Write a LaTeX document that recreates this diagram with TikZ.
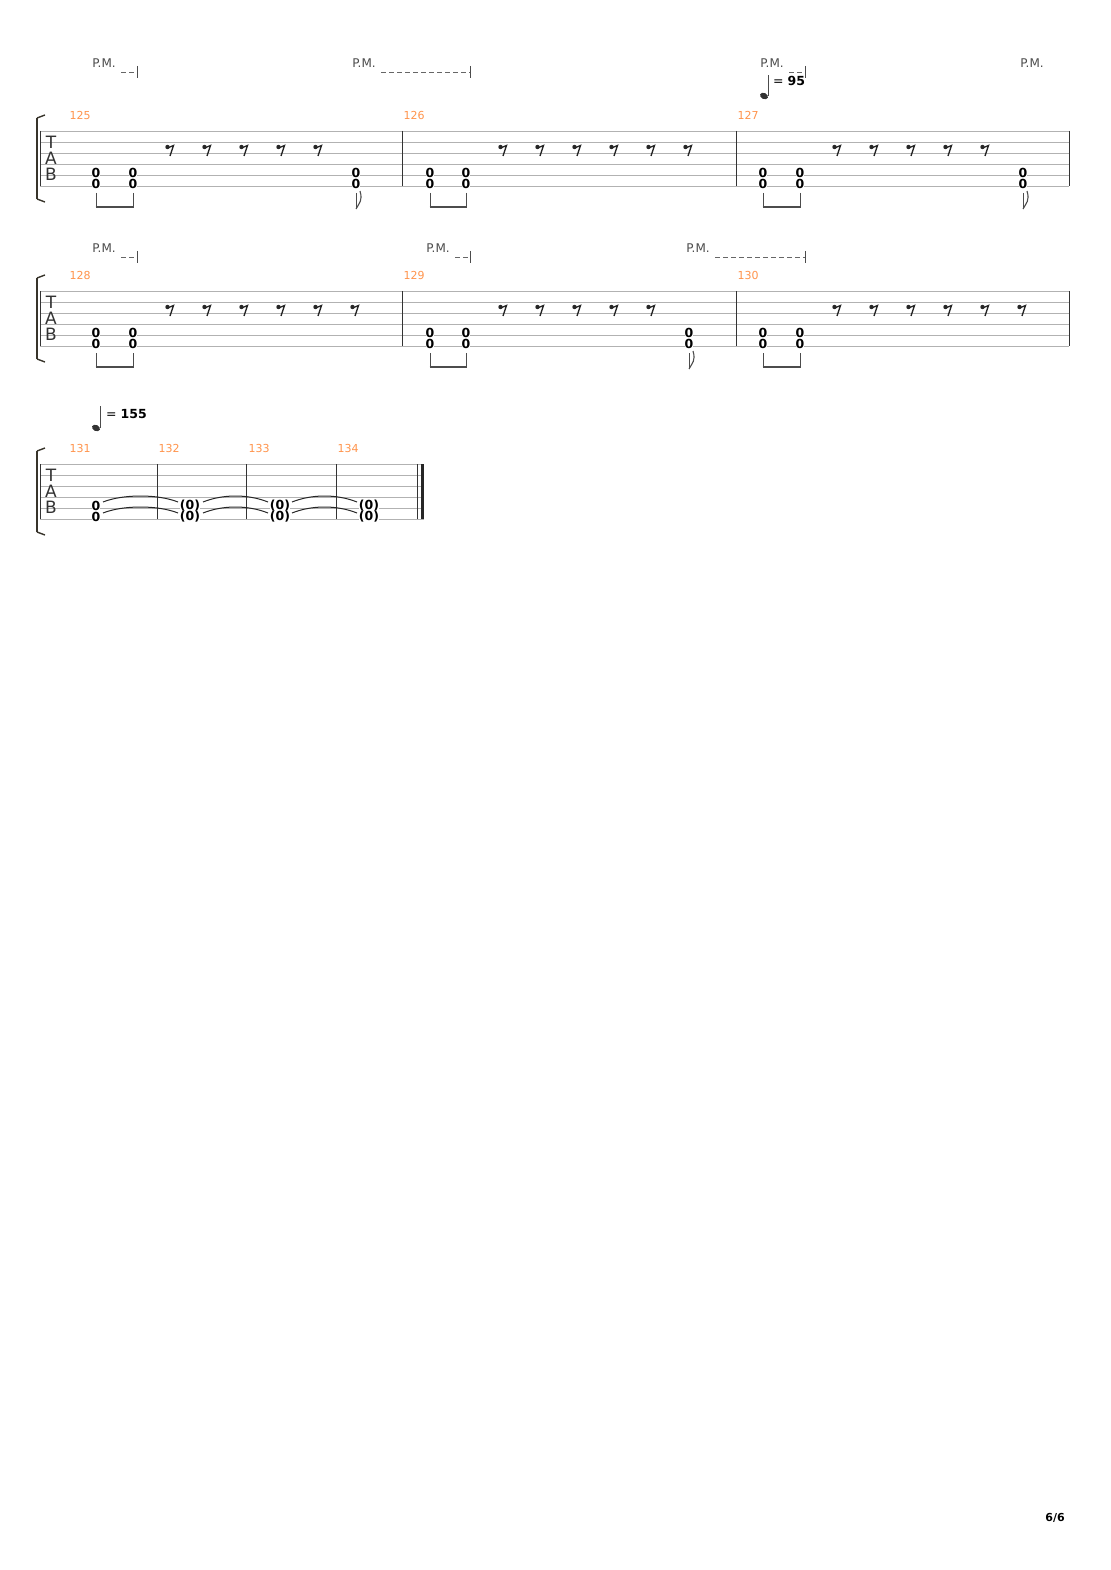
\documentclass[tikz,border=0pt]{standalone}
\usepackage{fontspec}
\setmainfont{DejaVu Sans}
\begin{document}
\begin{tikzpicture}[x=1pt,y=-1pt,
  staffline/.style={draw=black!30,line width=0.7pt},
  bar/.style={draw=black!80,line width=0.9pt},
  fret/.style={font=\fontsize{12.5}{12}\selectfont\bfseries,inner sep=0pt,fill=white},
  mnum/.style={font=\fontsize{11}{11}\selectfont,text=orange!80!red!70,anchor=west},
  pm/.style={font=\fontsize{12}{12}\selectfont,text=black!70},
  pmline/.style={draw=black!60,dashed,dash pattern=on 5pt off 3pt,line width=0.7pt},
  stem/.style={draw=black!70,line width=0.9pt}]
\useasboundingbox (0,0) rectangle (1110,1570);
\fill[white] (0,0) rectangle (1110,1570);
\newcommand{\myrest}[2]{\fill[black!85] (#1-2.5,#2-3) circle (2.2pt);
  \draw[black!85,line width=1.3pt] (#1-2,#2-2.2) -- (#1+3.5,#2-4.5) -- (#1,#2+6);}
\newcommand{\staff}[3]{%
  \foreach \k in {0,...,5}{\draw[staffline] (#2,#1+11*\k) -- (#3,#1+11*\k);}
  \draw[bar] (#2,#1) -- (#2,#1+55);
  \draw[black!80!olive,line width=2.5pt] (37,#1-13) -- (37,#1+68);
  \draw[black!80!olive,line width=1.4pt] (37,#1-13) -- (45,#1-16);
  \draw[black!80!olive,line width=1.4pt] (37,#1+68) -- (45,#1+71);
  \node[font=\fontsize{17}{17}\selectfont,inner sep=0pt,text=black!80] at (51,#1+11) {T};
  \node[font=\fontsize{17}{17}\selectfont,inner sep=0pt,text=black!80] at (51,#1+27) {A};
  \node[font=\fontsize{17}{17}\selectfont,inner sep=0pt,text=black!80] at (51,#1+43) {B};}
\newcommand{\chord}[2]{\node[fret] at (#1,#2+42) {0}; \node[fret] at (#1,#2+53) {0};}
\newcommand{\beamed}[3]{\chord{#1}{#3}\chord{#2}{#3}
  \draw[stem] (#1,#3+62) -- (#1,#3+77); \draw[stem] (#2,#3+62) -- (#2,#3+77);
  \draw[black!70,line width=2.4pt] (#1-0.45,#3+76) -- (#2+0.45,#3+76);}
\newcommand{\flagged}[2]{\chord{#1}{#2}
  \draw[stem] (#1,#2+62) -- (#1,#2+78);
  \draw[black!70,line width=1.1pt] (#1,#2+78) .. controls (#1+3,#2+72) and (#1+7,#2+70) .. (#1+4,#2+60);}
% ---------- system 1
\staff{131}{40}{1069}
\draw[bar] (402,131) -- (402,186); \draw[bar] (736,131) -- (736,186); \draw[bar] (1069,131) -- (1069,186);
\node[mnum] at (66,115) {125}; \node[mnum] at (400,115) {126}; \node[mnum] at (734,115) {127};
\beamed{96}{133}{131} \flagged{356}{131}
\foreach \x in {170,207,244,281,318} {\myrest{\x}{150}}
\beamed{430}{466}{131}
\foreach \x in {503,540,577,614,651,688} {\myrest{\x}{150}}
\beamed{763}{800}{131} \flagged{1023}{131}
\foreach \x in {837,874,911,948,985} {\myrest{\x}{150}}
\node[pm] (p1) at (104,63) {P.M.}; \draw[pmline] (121,72) -- (137,72); \draw[black!70] (137,66) -- (137,78);
\node[pm] (p2) at (364,63) {P.M.}; \draw[pmline] (381,72) -- (470,72); \draw[black!70] (470,66) -- (470,78);
\node[pm] (p3) at (772,63) {P.M.}; \draw[pmline] (789,72) -- (805,72); \draw[black!70] (805,66) -- (805,78);
\node[pm] (p4) at (1032,63) {P.M.};
\draw[stem] (768,96) -- (768,75); \fill[black!80,rotate around={-25:(764,96)}] (764,96) ellipse (4.2pt and 3pt);
\node[font=\fontsize{12.5}{12}\selectfont,anchor=west,inner sep=0pt] at (773,81) {= \textbf{95}};
% ---------- system 2
\staff{291}{40}{1069}
\draw[bar] (402,291) -- (402,346); \draw[bar] (736,291) -- (736,346); \draw[bar] (1069,291) -- (1069,346);
\node[mnum] at (66,275) {128}; \node[mnum] at (400,275) {129}; \node[mnum] at (734,275) {130};
\beamed{96}{133}{291}
\foreach \x in {170,207,244,281,318,355} {\myrest{\x}{310}}
\beamed{430}{466}{291} \flagged{689}{291}
\foreach \x in {503,540,577,614,651} {\myrest{\x}{310}}
\beamed{763}{800}{291}
\foreach \x in {837,874,911,948,985,1022} {\myrest{\x}{310}}
\node[pm] (p5) at (104,248) {P.M.}; \draw[pmline] (121,257) -- (137,257); \draw[black!70] (137,251) -- (137,263);
\node[pm] (p6) at (438,248) {P.M.}; \draw[pmline] (455,257) -- (470,257); \draw[black!70] (470,251) -- (470,263);
\node[pm] (p7) at (698,248) {P.M.}; \draw[pmline] (715,257) -- (805,257); \draw[black!70] (805,251) -- (805,263);
% ---------- system 3
\staff{464}{40}{424}
\draw[bar] (157,464) -- (157,519); \draw[bar] (246,464) -- (246,519); \draw[bar] (336,464) -- (336,519);
\draw[bar] (417,464) -- (417,519); \draw[black!85,line width=3.2pt] (422.5,464) -- (422.5,519);
\node[mnum] at (66,448) {131}; \node[mnum] at (155,448) {132}; \node[mnum] at (245,448) {133}; \node[mnum] at (334,448) {134};
\chord{96}{464}
\foreach \x in {190,280,369} {\node[fret] at (\x,506) {(0)}; \node[fret] at (\x,517) {(0)};}
\foreach \a/\b in {103/178,203/268,292/357} {
  \draw[black!85,line width=1pt] (\a,502) .. controls (\a+20,494) and (\b-20,494) .. (\b,502);
  \draw[black!85,line width=1pt] (\a,513) .. controls (\a+20,505) and (\b-20,505) .. (\b,513);}
\draw[stem] (100,428) -- (100,406); \fill[black!80,rotate around={-25:(96,428)}] (96,428) ellipse (4.2pt and 3pt);
\node[font=\fontsize{12.5}{12}\selectfont,anchor=west,inner sep=0pt] at (106,414) {= \textbf{155}};
\node[font=\fontsize{11}{11}\selectfont\bfseries] at (1055,1518) {6/6};
\end{tikzpicture}
\end{document}
